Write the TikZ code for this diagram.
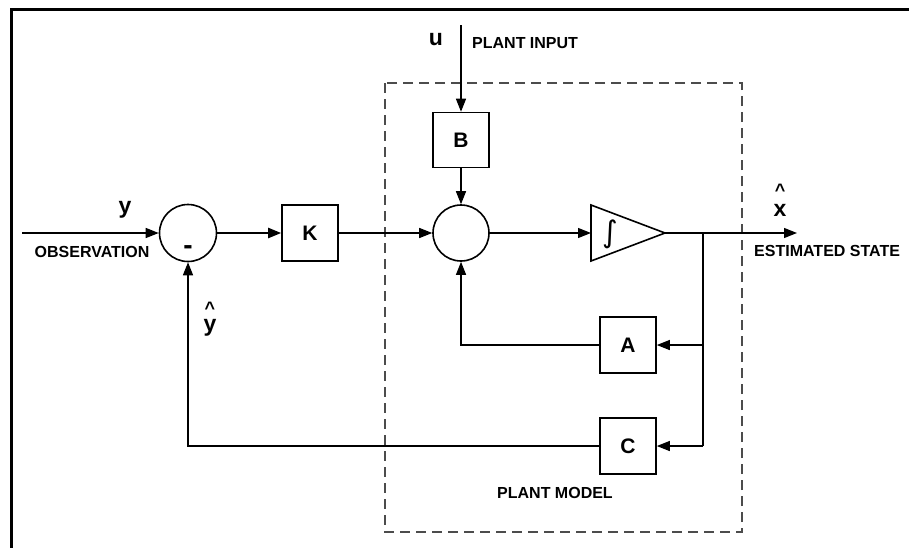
\documentclass[tikz,border=0pt]{standalone}
\usepackage{fontspec}
\setmainfont{Liberation Sans}
\newfontfamily\symfont{DejaVu Sans}
\usetikzlibrary{arrows.meta}
\newsavebox{\hatbox}
\newcommand{\hatlabel}[2][13pt]{\sbox{\hatbox}{#2}\rlap{\hbox to\wd\hatbox{\hss\raisebox{#1}{\fontsize{18}{18}\selectfont\textasciicircum}\hss}}\usebox{\hatbox}}
\tikzset{
  blk/.style={draw, line width=1.6pt, minimum width=56pt, minimum height=56pt, inner sep=0pt, font=\fontsize{21}{21}\selectfont\bfseries},
  sumc/.style={draw, circle, line width=1.6pt, minimum size=57pt, inner sep=0pt},
  sig/.style={line width=1.3pt, -{Triangle[length=13pt,width=10pt]}},
  wire/.style={line width=1.3pt},
  lbl/.style={font=\fontsize{16}{16}\selectfont\bfseries, inner sep=0pt},
  var/.style={font=\fontsize{23}{23}\selectfont\bfseries, inner sep=0pt}
}
\begin{document}
\begin{tikzpicture}[x=1pt,y=-1pt]
\useasboundingbox (0,0) rectangle (909,547);
% outer frame
\draw[line width=3pt] (11,560) -- (11,9) -- (920,9);
% plant model dashed box
\draw[gray!60!black, line width=1.2pt, dash pattern=on 10pt off 6pt] (385,83) rectangle (742,532);
\node[lbl] (pm) at (555,493) {PLANT MODEL};

% nodes
\node[sumc] (s1) at (188,233) {};
\node[blk] (K) at (310,233) {K};
\node[sumc, minimum size=56pt] (s2) at (461,233) {};
\node[blk, minimum height=55pt] (B) at (461,140) {B};
\node[blk] (A) at (628,345) {A};
\node[blk] (C) at (628,446) {C};
% integrator
\draw[line width=1.6pt] (591,205) -- (665,233) -- (591,261) -- cycle;
\node[font=\fontsize{30}{30}\selectfont\symfont, inner sep=0pt] (integ) at (610,234) {∫};
\coordinate (intin) at (591,233);
\coordinate (intout) at (665,233);

\coordinate (yin) at (22,233);
\coordinate (uin) at (461,25);
\coordinate (xout) at (797,233);
\coordinate (j) at (703,233);
\coordinate (jA) at (703,345);
\coordinate (jC) at (703,446);

% connectors
\draw[sig] (yin) -- (s1.west);
\draw[sig, line width=2.2pt] (s1.east) -- (K.west);
\draw[sig] (K.east) -- (s2.west);
\draw[sig] (uin) -- (B.north);
\draw[sig] (B.south) -- (s2.north);
\draw[sig] (s2.east) -- (intin);
\draw[sig] (intout) -- (xout);
\draw[wire] (j) -- (jC);
\draw[sig] (jA) -- (A.east);
\draw[sig] (jC) -- (C.east);
\draw[sig] (A.west) -| (s2.south);
\draw[sig] (C.west) -| (s1.south);

% labels
\node[var] (ylab) at (125,210) {y};
\node[lbl] (obs) at (92,252) {OBSERVATION};
\node[font=\fontsize{28}{28}\selectfont\bfseries, inner sep=0pt] (minus) at (188,250) {-};
\node[var] (ulab) at (436,40) {u};
\node[lbl, anchor=west] (pin) at (472,43) {PLANT INPUT};
\node[var, anchor=base] (xlab) at (780,216) {\hatlabel[20pt]{x}};
\node[lbl, anchor=west] (est) at (754,251) {ESTIMATED STATE};
\node[var, anchor=base] (ylab2) at (210,331) {\hatlabel[17pt]{y}};
\end{tikzpicture}
\end{document}
